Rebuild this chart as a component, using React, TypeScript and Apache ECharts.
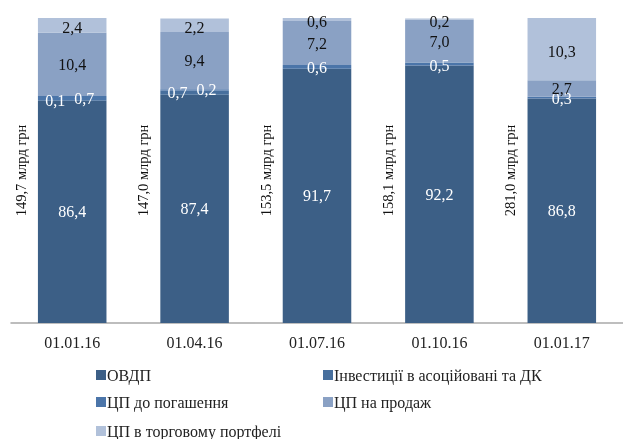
import React, { useEffect, useRef } from "react";
import * as echarts from "echarts";

const categories = ["01.01.16", "01.04.16", "01.07.16", "01.10.16", "01.01.17"];
const ovdp = [86.4, 87.4, 91.7, 92.2, 86.8];
const investments = [0.1, 0.7, null, null, null];
const heldToMaturity = [0.7, 0.2, 0.6, 0.5, 0.3];
const availableForSale = [10.4, 9.4, 7.2, 7.0, 2.7];
const tradingPortfolio = [2.4, 2.2, 0.6, 0.2, 10.3];
const totals = ["149,7", "147,0", "153,5", "158,1", "281,0"];
const seriesNames = [
  "ОВДП",
  "Інвестиції в асоційовані та ДК",
  "ЦП до погашення",
  "ЦП на продаж",
  "ЦП в торговому портфелі",
];

const COLORS = ["#3c5f86", "#476f9d", "#4b75a9", "#8aa1c4", "#b1c1da"];
const FONT = '"Liberation Serif", "Times New Roman", serif';

const fmt = (v: any) => {
  const n = typeof v === "object" && v !== null ? v.value : v;
  if (n === null || n === undefined || n === 0) return "";
  return Number(n).toFixed(1).replace(".", ",");
};

export default function App() {
  const ref = useRef<HTMLDivElement>(null);
  useEffect(() => {
    if (!ref.current) return;
    const chart = echarts.init(ref.current, null, { renderer: "svg" });

    const hasInv = investments.map((v) => v !== null && v !== undefined);

    const mkLabel = (color: string) => ({
      show: true,
      position: "inside",
      color,
      fontFamily: FONT,
      fontSize: 16,
      formatter: (p: any) => fmt(p.value),
    });

    const series: any[] = [
      {
        name: seriesNames[0],
        type: "bar",
        stack: "s",
        data: ovdp,
        label: mkLabel("#ffffff"),
      },
      {
        name: seriesNames[1],
        type: "bar",
        stack: "s",
        data: investments.map((v) => ({
          value: v,
          label: { offset: [-17, 0] },
        })),
        label: mkLabel("#ffffff"),
      },
      {
        name: seriesNames[2],
        type: "bar",
        stack: "s",
        data: heldToMaturity.map((v, i) => ({
          value: v,
          label: { offset: hasInv[i] ? [12, 0] : [0, 1] },
        })),
        label: mkLabel("#ffffff"),
      },
      {
        name: seriesNames[3],
        type: "bar",
        stack: "s",
        data: availableForSale,
        label: mkLabel("#111111"),
      },
      {
        name: seriesNames[4],
        type: "bar",
        stack: "s",
        data: tradingPortfolio,
        label: { ...mkLabel("#111111"), offset: [0, 2] },
      },
    ].map((s, i) => ({
      ...s,
      barWidth: "56%",
      itemStyle: { color: COLORS[i] },
      clip: true,
    }));

    series.push({
      name: "totals",
      type: "custom",
      data: totals.map((_, i) => [i, 75]),
      encode: { x: 0, y: 1 },
      z: 10,
      renderItem: (params: any, api: any) => {
        const pt = api.coord([api.value(0), api.value(1)]);
        const band = api.size([1, 0])[0];
        return {
          type: "text",
          x: pt[0] - band * 0.42,
          y: pt[1],
          rotation: Math.PI / 2,
          style: {
            text: totals[params.dataIndex] + " млрд грн",
            fill: "#111111",
            font: '14.5px "Liberation Serif", serif',
            align: "center",
            verticalAlign: "middle",
          },
        };
      },
    });

    const legendText = {
      fontFamily: FONT,
      fontSize: 16,
      color: "#222222",
      padding: [0, 0, 0, -4],
    };

    const legendPos = [
      { left: 96, top: 367 },
      { left: 323, top: 367 },
      { left: 96, top: 394 },
      { left: 323, top: 394 },
      { left: 96, top: 423 },
    ];

    chart.setOption({
      animation: false,
      grid: { left: 11, right: -3, top: 18, bottom: 116 },
      xAxis: {
        type: "category",
        data: categories,
        axisLine: { lineStyle: { color: "#a8a8a8", width: 1.5 } },
        axisTick: { show: false },
        axisLabel: {
          fontFamily: FONT,
          fontSize: 16,
          color: "#222222",
          margin: 11,
        },
      },
      yAxis: {
        type: "value",
        min: 50,
        max: 100,
        show: false,
        splitLine: { show: false },
      },
      legend: seriesNames.map((name, i) => ({
        ...legendPos[i],
        orient: "horizontal",
        icon: "rect",
        itemWidth: 10,
        itemHeight: 10,
        padding: 0,
        data: [name],
        textStyle: legendText,
        selectedMode: false,
      })),
      series,
    });

    return () => chart.dispose();
  }, []);

  return (
    <div
      ref={ref}
      style={{ position: "fixed", left: 0, top: 0, width: 623, height: 439 }}
    />
  );
}
